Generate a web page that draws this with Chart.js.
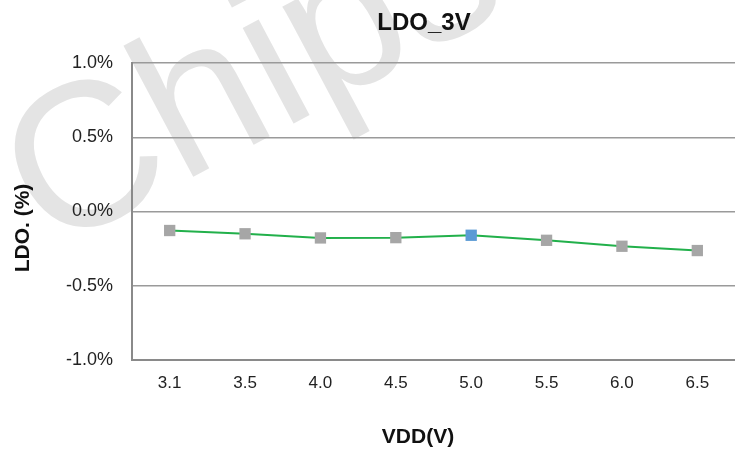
<!DOCTYPE html>
<html>
<head>
<meta charset="utf-8">
<title>LDO_3V</title>
<script src="https://cdn.jsdelivr.net/npm/chart.js@4.4.1/dist/chart.umd.min.js"></script>
<style>
    body { margin: 0; background: #fff; }
    #chart { display: block; }
</style>
</head>
<body>
<canvas id="chart" width="735" height="449"></canvas>
<script>
// data
const vddLabels = ['3.1', '3.5', '4.0', '4.5', '5.0', '5.5', '6.0', '6.5'];
const ldoValues = [-0.128, -0.15, -0.178, -0.176, -0.16, -0.194, -0.234, -0.263];
const yTicks = [-1.0, -0.5, 0.0, 0.5, 1.0];
const highlightIndex = 4; // the 5.0 V point is drawn blue

const FONT = "'Liberation Sans', Arial, sans-serif";

// title, axis titles and the watermark are painted by hand
const textPlugin = {
    id: 'texts',
    beforeDraw(chart) {
        const ctx = chart.ctx;
        ctx.save();
        ctx.fillStyle = '#fff';
        ctx.fillRect(0, 0, chart.width, chart.height);
        // watermark
        ctx.translate(50, 253);
        ctx.rotate(-28 * Math.PI / 180);
        ctx.font = '205px ' + FONT;
        ctx.fillStyle = '#e4e4e4';
        ctx.textBaseline = 'alphabetic';
        ctx.fillText('Chipsea', 0, 0);
        ctx.restore();
    },
    afterDraw(chart) {
        const ctx = chart.ctx;
        ctx.save();
        ctx.fillStyle = '#111';
        ctx.textAlign = 'center';
        ctx.textBaseline = 'middle';

        ctx.font = 'bold 24px ' + FONT;
        ctx.fillText('LDO_3V', 424, 23);

        ctx.font = 'bold 21px ' + FONT;
        ctx.fillText('VDD(V)', 418, 437);

        ctx.translate(23, 228);
        ctx.rotate(-Math.PI / 2);
        ctx.fillText('LDO. (%)', 0, 0);
        ctx.restore();
    }
};

const ctx = document.getElementById('chart').getContext('2d');
new Chart(ctx, {
    type: 'line',
    data: {
        labels: vddLabels,
        datasets: [{
            data: ldoValues,
            borderColor: '#22b04b',
            borderWidth: 2,
            tension: 0,
            pointStyle: 'rect',
            pointRadius: 8,
            pointBorderWidth: 0,
            pointBackgroundColor: ldoValues.map((v, i) => i === highlightIndex ? '#5b9bd5' : '#a6a6a6'),
            pointBorderColor: ldoValues.map((v, i) => i === highlightIndex ? '#5b9bd5' : '#a6a6a6')
        }]
    },
    options: {
        responsive: false,
        animation: false,
        devicePixelRatio: 1,
        layout: { autoPadding: false, padding: { top: 63, right: -4, bottom: 0, left: 0 } },
        plugins: {
            legend: { display: false },
            tooltip: { enabled: false }
        },
        scales: {
            x: {
                type: 'category',
                offset: true,
                grid: { display: false, drawTicks: false },
                border: { display: true, color: '#8a8a8a', width: 2 },
                ticks: { color: '#222', font: { family: FONT, size: 17 }, padding: 13 },
                afterFit: scale => { scale.height = 89; }
            },
            y: {
                min: yTicks[0],
                max: yTicks[yTicks.length - 1],
                afterBuildTicks: scale => { scale.ticks = yTicks.map(v => ({ value: v })); },
                grid: { color: '#9a9a9a', lineWidth: 1.5, drawTicks: false },
                border: { display: true, color: '#8a8a8a', width: 2 },
                ticks: {
                    color: '#222',
                    font: { family: FONT, size: 18 },
                    padding: 19,
                    callback: v => v.toFixed(1) + '%'
                },
                afterFit: scale => { scale.width = 132; }
            }
        }
    },
    plugins: [textPlugin]
});
</script>
</body>
</html>
